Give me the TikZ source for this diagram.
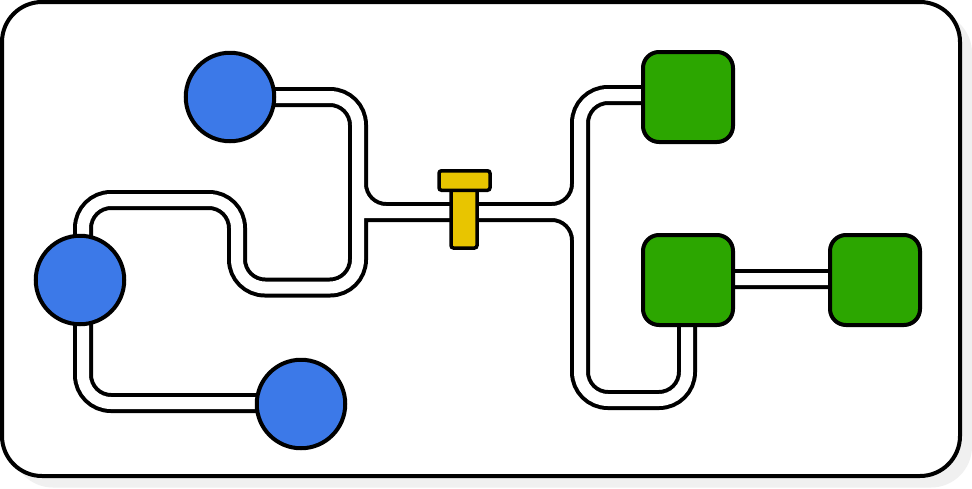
\documentclass[tikz,border=0pt]{standalone}
\usetikzlibrary{backgrounds}
\definecolor{srcblue}{RGB}{60,121,232}
\definecolor{sinkgreen}{RGB}{44,166,0}
\definecolor{valveyellow}{RGB}{232,197,0}
\definecolor{shadowgray}{RGB}{240,240,240}

\begin{document}
\begin{tikzpicture}[x=1pt, y=-1pt,
      source/.style={circle, draw=black, line width=4pt, fill=srcblue,
                     minimum size=88.5pt, inner sep=0pt},
      sink/.style={draw=black, line width=4pt, rounded corners=16pt, fill=sinkgreen,
                   minimum size=90pt, inner sep=0pt},
      valvepart/.style={draw=black, line width=3.5pt, rounded corners=2.5pt, fill=valveyellow,
                        inner sep=0pt},
      pipeout/.style={draw=black, line width=20pt, rounded corners=28pt},
      pipein/.style={draw=white, line width=12pt, rounded corners=28pt}]
    \useasboundingbox (0,0) rectangle (972,488);

    \node[source] (c1) at (230,97)  {};
    \node[source] (c2) at (80,280)  {};
    \node[source] (c3) at (301,404) {};

    \node[sink] (g1) at (688,97)  {};
    \node[sink] (g2) at (688,280) {};
    \node[sink] (g3) at (875,280) {};

    \node[valvepart, minimum width=26pt, minimum height=60pt] (stem) at (464,218) {};
    \node[valvepart, minimum width=51pt, minimum height=19.5pt] (head) at (464.5,180.5) {};

    \coordinate (jl) at (358,212);
    \coordinate (jt) at (358,180);
    \coordinate (jr) at (580,212);
    \coordinate (jru) at (580,170);
    \coordinate (jrd) at (580,254);
    \coordinate (lu) at (237,200);
    \coordinate (ld) at (358,287.5);
    \coordinate (rb) at (580,400);

    \begin{scope}[on background layer]
      \fill[white] (0,0) rectangle (972,488);
      \fill[shadowgray, rounded corners=41pt] (12,12) rectangle (972,487.5);
      \draw[line width=4pt, fill=white, rounded corners=40pt] (2,2) rectangle (960,476);

      \foreach \pipestyle in {pipeout, pipein}
        \draw[\pipestyle]
          (c1.center) -| (jl) -- (stem.center |- jl)
          ([xshift=3pt]c2.center) |- (lu) |- (ld) -- (jt)
          ([xshift=3pt]c2.center) |- ([yshift=1pt]c3.center)
          (jl) -- (jr)
          ([yshift=2pt]g1.center) -| (rb) -| ([xshift=-1pt]g2.center)
          (stem.center |- jl) -| (jru)
          (stem.center |- jl) -| (jrd)
          ([yshift=1pt]g2.center) -- ([yshift=1pt]g3.center);
    \end{scope}
  \end{tikzpicture}
\end{document}
